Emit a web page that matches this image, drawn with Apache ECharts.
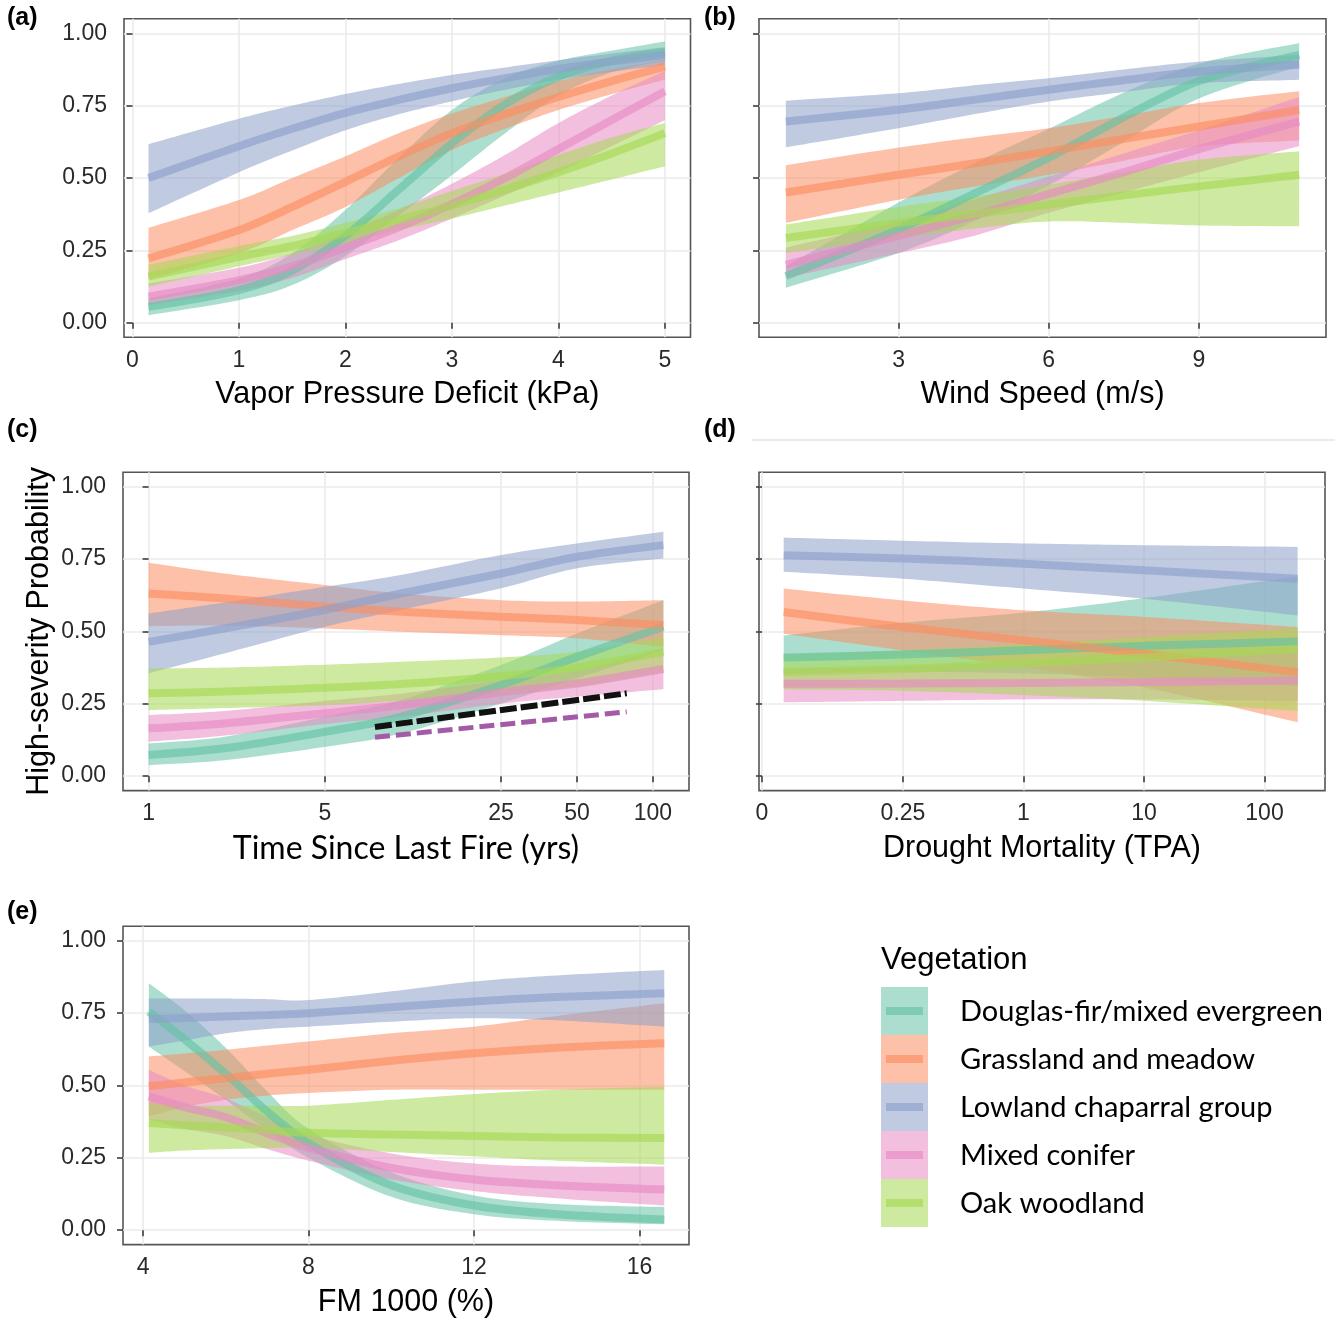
<!DOCTYPE html>
<html><head><meta charset="utf-8">
<script src="https://cdn.jsdelivr.net/npm/echarts@6/dist/echarts.min.js"></script>
<style>html,body{margin:0;padding:0;background:#fff;} #chart{width:1338px;height:1319px;}</style>
</head><body><div id="chart"></div>
<script>
// ---------- categories & colours ----------
const vegetation = ['Douglas-fir/mixed evergreen','Grassland and meadow','Lowland chaparral group','Mixed conifer','Oak woodland'];
const vegColors = ['#66C2A5','#FC8D62','#8DA0CB','#E78AC3','#A6D854'];

// ---------- tick labels ----------
const probTicks = [0, 0.25, 0.5, 0.75, 1];
const vpdTicks = [0, 1, 2, 3, 4, 5];
const windTicks = [3, 6, 9];
const tslfTicks = [1, 5, 25, 50, 100];
const droughtTickLabels = ['0', '0.25', '1', '10', '100'];
const droughtTickPos = [0, 1.17, 2.17, 3.17, 4.17];
const fmTicks = [4, 8, 12, 16];

// ---------- (a) Vapor Pressure Deficit ----------
const vpdX = [0.15, 1, 1.5, 2, 2.5, 3, 3.5, 4, 4.5, 5];
const vpdMean = [
  [0.055, 0.113, 0.18, 0.30, 0.46, 0.62, 0.755, 0.85, 0.905, 0.935],
  [0.222, 0.32, 0.40, 0.487, 0.575, 0.655, 0.72, 0.78, 0.835, 0.885],
  [0.50, 0.61, 0.67, 0.725, 0.77, 0.81, 0.845, 0.877, 0.903, 0.925],
  [0.09, 0.147, 0.195, 0.26, 0.33, 0.41, 0.50, 0.60, 0.70, 0.80],
  [0.159, 0.228, 0.265, 0.31, 0.355, 0.405, 0.46, 0.52, 0.585, 0.655]
];
const vpdLow = [
  [0.026, 0.078, 0.13, 0.23, 0.37, 0.51, 0.655, 0.785, 0.865, 0.905],
  [0.15, 0.24, 0.32, 0.40, 0.50, 0.597, 0.67, 0.735, 0.79, 0.84],
  [0.378, 0.52, 0.595, 0.665, 0.72, 0.765, 0.805, 0.84, 0.867, 0.89],
  [0.061, 0.11, 0.155, 0.22, 0.285, 0.36, 0.44, 0.52, 0.61, 0.70],
  [0.125, 0.195, 0.235, 0.275, 0.32, 0.36, 0.405, 0.45, 0.495, 0.54]
];
const vpdHigh = [
  [0.084, 0.153, 0.24, 0.39, 0.57, 0.735, 0.845, 0.905, 0.94, 0.972],
  [0.328, 0.424, 0.50, 0.575, 0.655, 0.723, 0.78, 0.835, 0.875, 0.908],
  [0.617, 0.705, 0.75, 0.79, 0.825, 0.856, 0.882, 0.907, 0.93, 0.952],
  [0.136, 0.19, 0.24, 0.31, 0.39, 0.48, 0.58, 0.69, 0.785, 0.87],
  [0.20, 0.265, 0.30, 0.345, 0.395, 0.455, 0.515, 0.58, 0.64, 0.69]
];

// ---------- (b) Wind Speed ----------
const windX = [0.75, 3, 4.5, 6, 7.5, 9, 11];
const windMean = [
  [0.161, 0.322, 0.445, 0.57, 0.71, 0.835, 0.925],
  [0.45, 0.511, 0.55, 0.592, 0.635, 0.678, 0.735],
  [0.695, 0.736, 0.77, 0.805, 0.838, 0.868, 0.891],
  [0.20, 0.30, 0.37, 0.445, 0.52, 0.60, 0.695],
  [0.293, 0.345, 0.375, 0.408, 0.44, 0.471, 0.511]
];
const windLow = [
  [0.121, 0.241, 0.35, 0.475, 0.625, 0.775, 0.885],
  [0.345, 0.425, 0.47, 0.511, 0.56, 0.609, 0.63],
  [0.606, 0.672, 0.72, 0.764, 0.797, 0.828, 0.839],
  [0.155, 0.24, 0.30, 0.38, 0.45, 0.52, 0.61],
  [0.241, 0.293, 0.325, 0.35, 0.345, 0.336, 0.333]
];
const windHigh = [
  [0.195, 0.415, 0.55, 0.67, 0.795, 0.895, 0.966],
  [0.544, 0.605, 0.64, 0.672, 0.715, 0.759, 0.80],
  [0.767, 0.793, 0.82, 0.845, 0.875, 0.902, 0.925],
  [0.26, 0.35, 0.425, 0.505, 0.585, 0.665, 0.78],
  [0.339, 0.40, 0.435, 0.477, 0.52, 0.563, 0.592]
];

// ---------- (c) Time Since Last Fire (years, log axis) ----------
const tslfX = [1, 2, 5, 10, 25, 50, 110];
const tslfMean = [
  [0.073, 0.096, 0.153, 0.205, 0.315, 0.412, 0.516],
  [0.631, 0.614, 0.585, 0.568, 0.551, 0.539, 0.522],
  [0.464, 0.51, 0.574, 0.631, 0.70, 0.758, 0.798],
  [0.165, 0.182, 0.217, 0.245, 0.29, 0.32, 0.37],
  [0.286, 0.292, 0.305, 0.318, 0.345, 0.375, 0.43]
];
const tslfLow = [
  [0.038, 0.055, 0.101, 0.147, 0.251, 0.338, 0.435],
  [0.518, 0.52, 0.51, 0.499, 0.487, 0.476, 0.447],
  [0.355, 0.424, 0.516, 0.574, 0.649, 0.718, 0.752],
  [0.119, 0.14, 0.18, 0.205, 0.25, 0.275, 0.30],
  [0.228, 0.235, 0.245, 0.26, 0.285, 0.31, 0.36]
];
const tslfHigh = [
  [0.113, 0.136, 0.205, 0.263, 0.384, 0.493, 0.608],
  [0.737, 0.70, 0.66, 0.631, 0.608, 0.603, 0.608],
  [0.562, 0.60, 0.654, 0.695, 0.764, 0.804, 0.844],
  [0.211, 0.225, 0.26, 0.285, 0.33, 0.365, 0.44],
  [0.372, 0.375, 0.385, 0.395, 0.41, 0.43, 0.48]
];
const dashX = [7.9, 78.7];
const dashBlack = [0.170, 0.286];
const dashPurple = [0.134, 0.222];

// ---------- (d) Drought Mortality (axis units) ----------
const droughtX = [0.18, 1.17, 2.17, 3.17, 4.445];
const droughtMean = [
  [0.41, 0.42, 0.435, 0.45, 0.465],
  [0.567, 0.515, 0.469, 0.423, 0.359],
  [0.763, 0.752, 0.734, 0.711, 0.682],
  [0.319, 0.32, 0.322, 0.325, 0.33],
  [0.36, 0.37, 0.39, 0.41, 0.44]
];
const droughtLow = [
  [0.353, 0.36, 0.355, 0.34, 0.31],
  [0.492, 0.434, 0.376, 0.307, 0.186],
  [0.706, 0.682, 0.648, 0.613, 0.555],
  [0.255, 0.26, 0.265, 0.265, 0.26],
  [0.30, 0.295, 0.28, 0.26, 0.225]
];
const droughtHigh = [
  [0.486, 0.53, 0.565, 0.615, 0.69],
  [0.648, 0.607, 0.573, 0.55, 0.515],
  [0.824, 0.813, 0.804, 0.798, 0.792],
  [0.37, 0.38, 0.395, 0.42, 0.45],
  [0.42, 0.435, 0.455, 0.48, 0.51]
];

// ---------- (e) FM 1000 ----------
const fmX = [4.14, 5, 6, 7, 8, 10, 12, 14, 16.6];
const fmMean = [
  [0.755, 0.66, 0.54, 0.41, 0.30, 0.155, 0.085, 0.055, 0.037],
  [0.497, 0.51, 0.525, 0.54, 0.554, 0.585, 0.611, 0.63, 0.646],
  [0.729, 0.733, 0.738, 0.743, 0.749, 0.77, 0.79, 0.805, 0.818],
  [0.462, 0.425, 0.39, 0.335, 0.284, 0.215, 0.175, 0.155, 0.14],
  [0.37, 0.362, 0.355, 0.345, 0.336, 0.33, 0.325, 0.32, 0.318]
];
const fmLow = [
  [0.634, 0.55, 0.45, 0.345, 0.25, 0.115, 0.055, 0.032, 0.02],
  [0.393, 0.425, 0.45, 0.465, 0.474, 0.485, 0.485, 0.485, 0.485],
  [0.634, 0.655, 0.68, 0.695, 0.703, 0.72, 0.732, 0.725, 0.703],
  [0.382, 0.35, 0.325, 0.28, 0.24, 0.175, 0.135, 0.11, 0.085],
  [0.267, 0.275, 0.28, 0.283, 0.285, 0.27, 0.255, 0.24, 0.226]
];
const fmHigh = [
  [0.853, 0.76, 0.63, 0.48, 0.35, 0.20, 0.12, 0.09, 0.08],
  [0.60, 0.61, 0.623, 0.638, 0.652, 0.68, 0.703, 0.74, 0.784],
  [0.80, 0.80, 0.80, 0.798, 0.795, 0.825, 0.859, 0.88, 0.899],
  [0.554, 0.50, 0.455, 0.39, 0.33, 0.265, 0.23, 0.22, 0.22],
  [0.44, 0.43, 0.43, 0.43, 0.43, 0.45, 0.47, 0.485, 0.495]
];

// ---------- build ----------
const lg = v => Math.log10(v);
const ident = v => v;
const FONT = 'Liberation Sans';
const RIBBON_OPACITY = 0.55;
const LINE_OPACITY = 0.65;

const grids = [
  {left: 124, top: 18.8, width: 566.5, height: 318.4},
  {left: 759, top: 18.8, width: 567, height: 318.4},
  {left: 123, top: 472.2, width: 566, height: 318.4},
  {left: 759, top: 472.2, width: 566, height: 318.4},
  {left: 123, top: 926.2, width: 566, height: 318.4}
].map(g => Object.assign(g, {show: true, borderColor: '#555', borderWidth: 1.6, backgroundColor: 'transparent'}));

function xAxisCfg(gi, min, max, ticks, fmt, name, nameFont, nameSize) {
  return {
    type: 'value', gridIndex: gi, min: min, max: max,
    axisLine: {show: false},
    axisTick: {show: true, length: 6, lineStyle: {color: '#333', width: 1.5}, customValues: ticks},
    axisLabel: {show: true, customValues: ticks, formatter: fmt, fontSize: 23, color: '#2a2a2a', margin: 12, fontFamily: FONT},
    splitLine: {show: true, lineStyle: {color: '#EBEBEB', width: 1.6}},
    name: name, nameLocation: 'middle', nameGap: 42,
    nameTextStyle: {fontSize: nameSize, fontFamily: nameFont, color: '#000'}
  };
}
function yAxisCfg(gi, showLabels, name) {
  const cfg = {
    type: 'value', gridIndex: gi, min: -0.05, max: 1.05,
    axisLine: {show: false},
    axisTick: {show: true, length: 6, lineStyle: {color: '#333', width: 1.5}, customValues: probTicks},
    axisLabel: {show: showLabels, customValues: probTicks, formatter: v => v.toFixed(2), fontSize: 23, color: '#2a2a2a', margin: 17, fontFamily: FONT},
    splitLine: {show: true, lineStyle: {color: '#EBEBEB', width: 1.6}}
  };
  if (name) {
    Object.assign(cfg, {name: name, nameLocation: 'middle', nameRotate: 90, nameGap: 68,
      nameTextStyle: {fontSize: 30.5, fontFamily: FONT, color: '#000'}});
  }
  return cfg;
}

const intFmt = v => String(Math.round(v));
const xAxes = [
  xAxisCfg(0, -0.08, 5.24, vpdTicks, intFmt, 'Vapor Pressure Deficit (kPa)', FONT, 30.5),
  xAxisCfg(1, 0.214, 11.536, windTicks, intFmt, 'Wind Speed (m/s)', FONT, 30.5),
  xAxisCfg(2, -0.1015, 2.143, tslfTicks.map(lg), v => String(Math.round(Math.pow(10, v))), 'Time Since Last Fire (yrs)', 'Lato', 32),
  xAxisCfg(3, -0.025, 4.672, droughtTickPos, v => {
    let best = 0;
    droughtTickPos.forEach((p, i) => { if (Math.abs(p - v) < Math.abs(droughtTickPos[best] - v)) best = i; });
    return droughtTickLabels[best];
  }, 'Drought Mortality (TPA)', FONT, 30.5),
  xAxisCfg(4, 3.516, 17.198, fmTicks, intFmt, 'FM 1000 (%)', FONT, 30.5)
];
const yAxes = [
  yAxisCfg(0, true), yAxisCfg(1, false), yAxisCfg(2, true, 'High-severity Probability'),
  yAxisCfg(3, false), yAxisCfg(4, true)
];

// smooth bezier (Catmull-Rom) sampled into screen points, for ribbon outlines
function smoothPts(pts) {
  const out = [pts[0]];
  const N = 14;
  for (let i = 0; i < pts.length - 1; i++) {
    const p0 = pts[i - 1] || pts[i], p1 = pts[i], p2 = pts[i + 1], p3 = pts[i + 2] || pts[i + 1];
    const c1 = [p1[0] + (p2[0] - p0[0]) / 6, p1[1] + (p2[1] - p0[1]) / 6];
    const c2 = [p2[0] - (p3[0] - p1[0]) / 6, p2[1] - (p3[1] - p1[1]) / 6];
    for (let s = 1; s <= N; s++) {
      const t = s / N, u = 1 - t;
      out.push([
        u * u * u * p1[0] + 3 * u * u * t * c1[0] + 3 * u * t * t * c2[0] + t * t * t * p2[0],
        u * u * u * p1[1] + 3 * u * u * t * c1[1] + 3 * u * t * t * c2[1] + t * t * t * p2[1]
      ]);
    }
  }
  return out;
}

const series = [];
function addPanel(gi, xs, means, lows, highs, xf) {
  // confidence ribbons (custom series, positioned through the axes)
  series.push({
    type: 'custom', coordinateSystem: 'cartesian2d', xAxisIndex: gi, yAxisIndex: gi,
    silent: true, clip: true, z: 2,
    data: vegetation.map((v, k) => [xf(xs[0]), lows[k][0], k]),
    renderItem: function (params, api) {
      const k = api.value(2);
      const up = xs.map((x, i) => api.coord([xf(x), highs[k][i]]));
      const lo = xs.map((x, i) => api.coord([xf(x), lows[k][i]])).reverse();
      const pts = smoothPts(up).concat(smoothPts(lo));
      return {type: 'polygon', shape: {points: pts},
        style: {fill: vegColors[k], opacity: RIBBON_OPACITY}};
    }
  });
  for (let k = 0; k < vegetation.length; k++) {
    series.push({
      type: 'line', name: vegetation[k], xAxisIndex: gi, yAxisIndex: gi,
      data: xs.map((x, i) => [xf(x), means[k][i]]),
      symbol: 'none', smooth: 0.3, silent: true,
      lineStyle: {color: vegColors[k], width: 8, opacity: LINE_OPACITY, cap: 'butt'}, z: 3
    });
  }
}
addPanel(0, vpdX, vpdMean, vpdLow, vpdHigh, ident);
addPanel(1, windX, windMean, windLow, windHigh, ident);
addPanel(2, tslfX, tslfMean, tslfLow, tslfHigh, lg);
addPanel(3, droughtX, droughtMean, droughtLow, droughtHigh, ident);
addPanel(4, fmX, fmMean, fmLow, fmHigh, ident);

series.push({
  type: 'line', xAxisIndex: 2, yAxisIndex: 2, silent: true, symbol: 'none', z: 4,
  data: dashX.map((x, i) => [lg(x), dashBlack[i]]),
  lineStyle: {color: '#111', width: 6, type: [17, 4], cap: 'butt'}
});
series.push({
  type: 'line', xAxisIndex: 2, yAxisIndex: 2, silent: true, symbol: 'none', z: 4,
  data: dashX.map((x, i) => [lg(x), dashPurple[i]]),
  lineStyle: {color: '#A35BA8', width: 5, type: [15, 6], cap: 'butt'}
});

// ---------- graphic: panel tags, legend ----------
const graphic = [];
[['(a)', 7, 18], ['(b)', 704, 18], ['(c)', 7, 430], ['(d)', 704, 430], ['(e)', 7, 912]].forEach(t => {
  graphic.push({type: 'text', x: t[1], y: t[2], silent: true,
    style: {text: t[0], font: 'bold 25px "Liberation Sans"', fill: '#000', verticalAlign: 'middle'}});
});
graphic.push({type: 'line', silent: true, shape: {x1: 752, y1: 440, x2: 1335, y2: 440},
  style: {stroke: '#E3E3E3', lineWidth: 1.5}});
graphic.push({type: 'text', x: 881, y: 960, silent: true,
  style: {text: 'Vegetation', font: '31px "Liberation Sans"', fill: '#000', verticalAlign: 'middle'}});
vegetation.forEach((name, k) => {
  const y0 = 987 + k * 48;
  graphic.push({type: 'rect', silent: true, shape: {x: 881, y: y0, width: 47, height: 48},
    style: {fill: vegColors[k], opacity: RIBBON_OPACITY}});
  graphic.push({type: 'rect', silent: true, shape: {x: 886, y: y0 + 20, width: 37, height: 8},
    style: {fill: vegColors[k], opacity: LINE_OPACITY}});
  graphic.push({type: 'text', x: 960, y: y0 + 25, silent: true,
    style: {text: name, font: '29px Lato', fill: '#000', verticalAlign: 'middle'}});
});

const chart = echarts.init(document.getElementById('chart'), null, {renderer: 'canvas'});
chart.setOption({
  animation: false,
  backgroundColor: '#fff',
  grid: grids,
  xAxis: xAxes,
  yAxis: yAxes,
  series: series,
  graphic: graphic
});
</script></body></html>
